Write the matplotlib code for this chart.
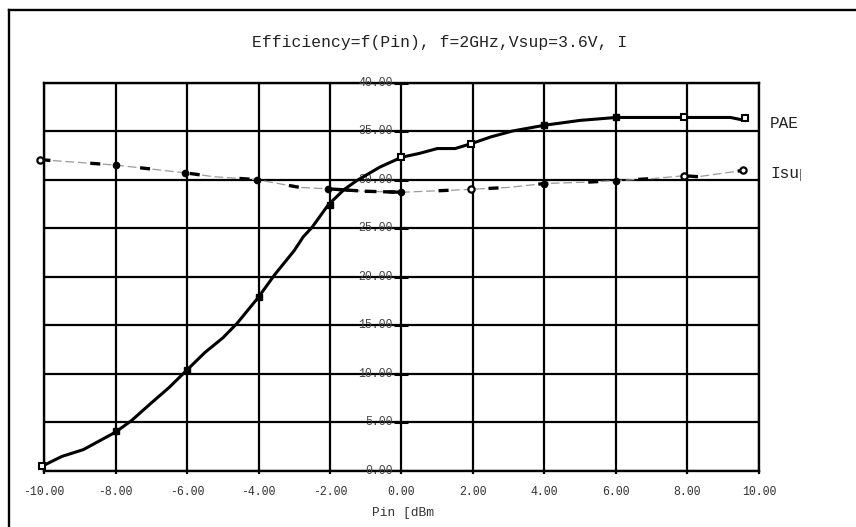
import matplotlib
matplotlib.use("Agg")
import matplotlib.pyplot as plt
from matplotlib.lines import Line2D
from matplotlib.transforms import Bbox
import numpy as np

plt.rcParams['font.family'] = ['Liberation Mono', 'DejaVu Sans Mono']

# PAE curve [%] vs Pin [dBm]
pae_x = [-10.05, -9.5, -8.9, -8.0, -7.55, -7.0, -6.5, -6.0, -5.5, -5.0, -4.6, -4.0,
         -3.55, -3.0, -2.75, -2.5, -2.05, -1.6, -1.25, -0.6, 0.0, 0.5, 1.0, 1.5,
         1.95, 2.5, 3.1, 4.0, 5.0, 6.0, 7.0, 7.9, 9.2, 9.6]
pae_y = [0.5, 1.5, 2.2, 4.0, 5.2, 7.0, 8.6, 10.4, 12.2, 13.7, 15.2, 17.9,
         20.2, 22.7, 24.1, 25.1, 27.4, 29.0, 29.9, 31.3, 32.3, 32.7, 33.2, 33.2,
         33.7, 34.4, 35.0, 35.6, 36.1, 36.4, 36.4, 36.4, 36.4, 36.1]
pae_mx_fill = [-8.0, -6.0, -4.0, -2.0, 4.0, 6.0]
pae_my_fill = [4.1, 10.4, 17.9, 27.4, 35.6, 36.4]
pae_mx_open = [-10.05, 0.0, 1.95, 7.9, 9.6]
pae_my_open = [0.5, 32.3, 33.7, 36.4, 36.3]

# Isup curve (same scale)
isup_x = [-10.1, -8.0, -6.05, -5.25, -4.05, -2.85, -2.05, -1.0, 0.0, 1.0, 1.95,
          3.0, 4.0, 5.25, 6.0, 7.0, 7.9, 8.3, 9.55]
isup_y = [32.05, 31.5, 30.7, 30.3, 30.0, 29.2, 29.05, 28.8, 28.7, 28.85, 29.0,
          29.2, 29.6, 29.75, 29.9, 30.1, 30.4, 30.3, 30.95]
isup_mx_fill = [-8.0, -6.05, -4.05, -2.05, 0.0, 4.0, 6.0]
isup_my_fill = [31.5, 30.7, 30.0, 29.05, 28.7, 29.6, 29.9]
isup_mx_open = [-10.1, 1.95, 7.9, 9.55]
isup_my_open = [32.05, 29.0, 30.4, 30.95]

xticks = np.arange(-10, 11, 2)
yticks = np.arange(0, 41, 5)
xlabels = ['%.2f' % v for v in xticks]
ylabels = ['%.2f' % v for v in yticks]

W, H = 856, 527
fig = plt.figure(figsize=(W / 100, H / 100), dpi=100)
fig.patch.set_facecolor('white')
ax = fig.add_axes([44 / W, 56 / H, 715 / W, 388.5 / H])

ax.set_xlim(-10, 10)
ax.set_ylim(0, 40)
ax.set_xticks(xticks)
ax.set_xticklabels(xlabels, fontsize=8.3, color='#333333')
ax.set_yticks(yticks)
ax.tick_params(axis='x', length=2.5, width=1.6, pad=8, direction='out')
ax.tick_params(axis='y', length=0, labelleft=False)
ax.grid(True, color='black', linewidth=1.6)
for s in ax.spines.values():
    s.set_linewidth(1.7)

# y labels sit left of the x=0 line
for v, lab in zip(yticks, ylabels):
    ax.text(-0.24, v, lab, ha='right', va='center', fontsize=8.3, color='#444444')
    ax.plot([-0.22, 0.18], [v, v], color='black', lw=2.2, solid_capstyle='butt')

# PAE
ax.plot(pae_x, pae_y, color='black', lw=2.2, zorder=4, clip_on=False)
ax.plot(pae_mx_fill, pae_my_fill, 's', color='black', ms=4.5, zorder=5, clip_on=False)
ax.plot(pae_mx_open, pae_my_open, 's', mfc='white', mec='black', mew=1.5, ms=5,
        zorder=5, clip_on=False)

# Isup: thin grey dashes with heavier black dashes on top
ax.plot(isup_x, isup_y, color='#9a9a9a', lw=0.9, dashes=(7, 3), zorder=3, clip_on=False)
ax.plot(isup_x, isup_y, color='black', lw=2.4, dashes=(3, 12), zorder=3, clip_on=False)
mid = [(x, y) for x, y in zip(isup_x, isup_y) if -2.1 <= x <= 0.05]
ax.plot([p[0] for p in mid], [p[1] for p in mid], color='black', lw=2.4,
        dashes=(3.5, 2), zorder=3)
ax.plot(isup_mx_fill, isup_my_fill, 'o', color='black', ms=4.5, zorder=5, clip_on=False)
ax.plot(isup_mx_open, isup_my_open, 'o', mfc='white', mec='black', mew=1.6, ms=4.5,
        zorder=5, clip_on=False)

# titles and labels
fig.text(440 / W, 1 - 43 / H, 'Efficiency=f(Pin), f=2GHz,Vsup=3.6V, I',
         ha='center', va='center', fontsize=11.8, color='#222222')
fig.text(403 / W, 1 - 513 / H, 'Pin [dBm', ha='center', va='center',
         fontsize=9.3, color='#333333')
fig.text(770 / W, 1 - 123 / H, 'PAE', ha='left', va='center', fontsize=11.6,
         color='#222222')
t = fig.text(770 / W, 1 - 173.5 / H, 'Isup', ha='left', va='center',
             fontsize=11.6, color='#222222')
t.set_clip_box(Bbox([[0, 0], [801, H]]))
t.set_clip_on(True)

# outer frame (cut off at the right and bottom)
fig.add_artist(Line2D([9 / W, 1.0], [1 - 10 / H, 1 - 10 / H], color='black', lw=1.7))
fig.add_artist(Line2D([9 / W, 9 / W], [0.0, 1 - 10 / H], color='black', lw=1.7))

fig.savefig('out.png', dpi=100)
